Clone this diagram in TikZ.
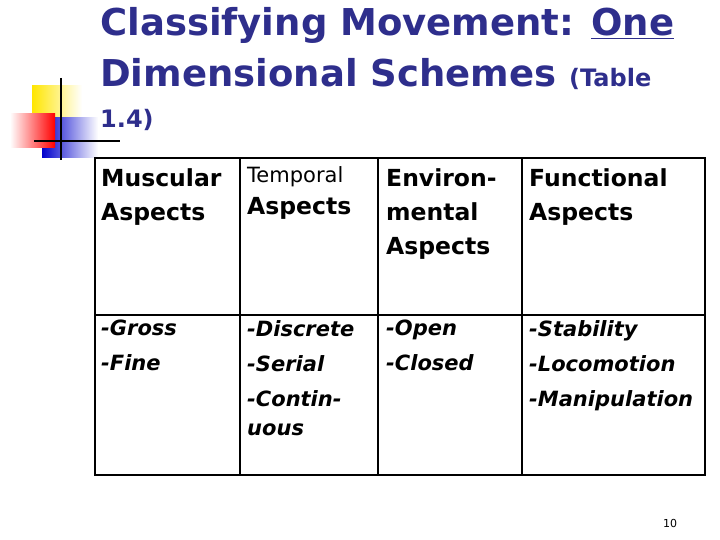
\documentclass[tikz,border=0pt]{standalone}
\usepackage{fontspec}
\setmainfont{DejaVu Sans}
\begin{document}
\begin{tikzpicture}[x=1pt,y=-1pt,
  ttl/.style={anchor=base west,inner sep=0,font=\fontsize{37}{40}\selectfont\bfseries,text=ttlblue},
  hd/.style={anchor=north west,inner sep=0,align=left,font=\fontsize{23.5}{34}\selectfont\bfseries},
  it/.style={anchor=north west,inner sep=0,align=left,font=\fontsize{21}{35}\selectfont\bfseries\itshape}]
\definecolor{ttlblue}{HTML}{2E2E8C}
\useasboundingbox (0,0) rectangle (720,540);
% decoration
\fill[left color=yellow!80!orange, right color=white] (32,86) rectangle (82,120);
\fill[left color=blue!80!black, right color=white] (42,118) rectangle (98,158);
\fill[left color=white, right color=red] (10,114) rectangle (55,148);
\draw[line width=2.5pt] (61,78) -- (61,160);
\draw[line width=2.5pt] (34,141) -- (120,141);
% title
\node[ttl] (t1) at (100,36) {Classifying Movement: \underline{One}};
\node[ttl] (t2) at (100,87) {Dimensional Schemes {\fontsize{24}{28}\selectfont(Table}};
\node[ttl,font=\fontsize{24}{28}\selectfont\bfseries] (t3) at (100,128) {1.4)};
% table
\draw[line width=1.6pt] (95,158) rectangle (705,475);
\draw[line width=1.2pt] (95,315) -- (705,315);
\foreach \x in {240,378,522} \draw[line width=1.2pt] (\x,158) -- (\x,475);
\node[hd] (h1) at (101,168) {Muscular\\Aspects};
\node[anchor=north west,inner sep=0,align=left,font=\fontsize{23.5}{32}\selectfont\bfseries] (h2) at (247,166) {{\fontsize{21}{20}\selectfont\mdseries Temporal}\\Aspects};
\node[hd] (h3) at (386,168) {Environ-\\mental\\Aspects};
\node[hd] (h4) at (529,168) {Functional\\Aspects};
\node[it] (c1) at (101,320) {-Gross\\-Fine};
\node[it] (c2) at (247,320) {-Discrete\\-Serial\\-Contin-\\[-6pt]uous};
\node[it] (c3) at (386,320) {-Open\\-Closed};
\node[it] (c4) at (529,320) {-Stability\\-Locomotion\\-Manipulation};
\node[font=\fontsize{11}{14}\selectfont] (pg) at (670,523) {10};
\end{tikzpicture}
\end{document}
